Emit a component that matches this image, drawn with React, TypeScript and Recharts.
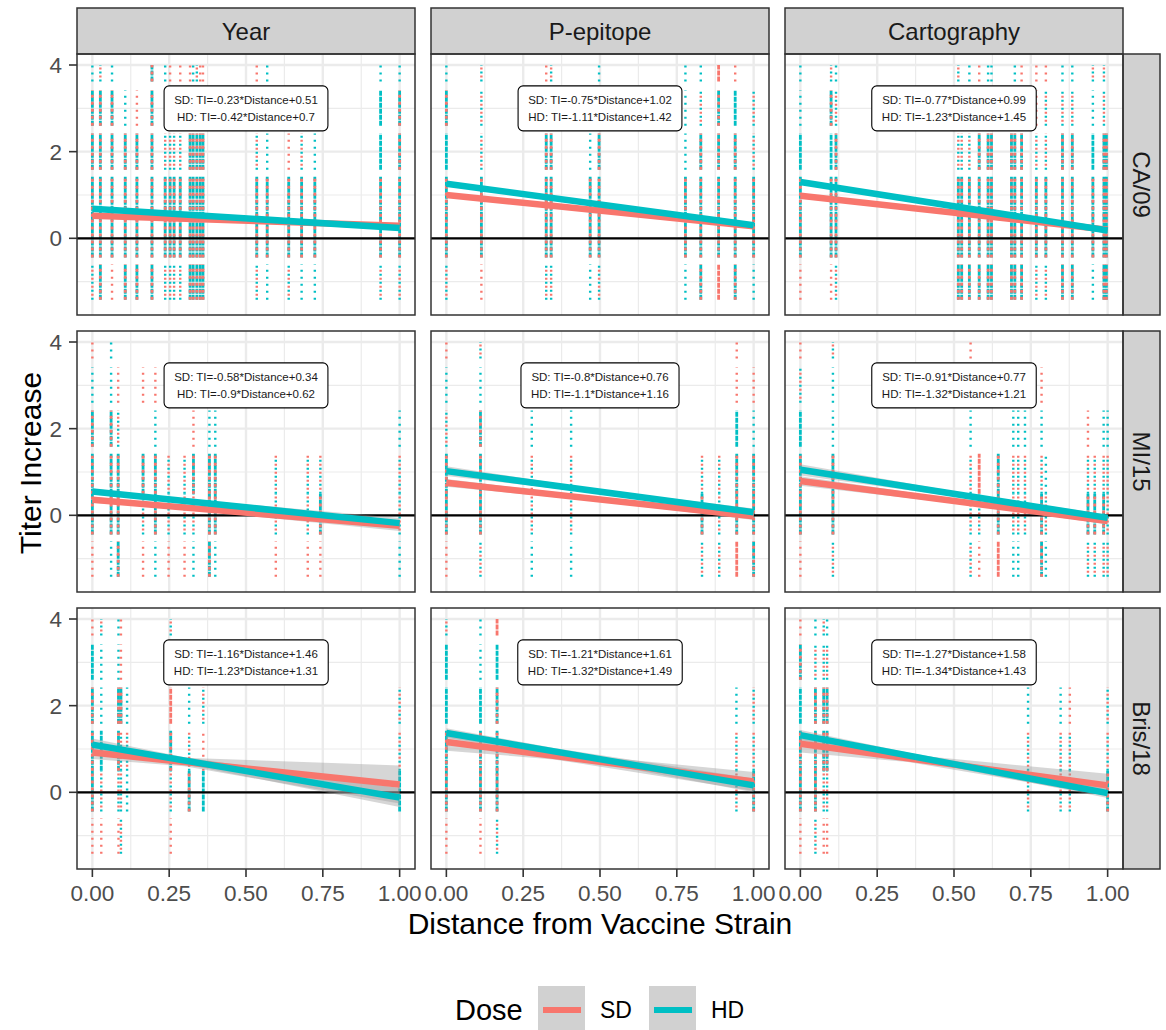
import React from 'react';
import { ComposedChart, XAxis, YAxis, Scatter, Line, Area, ReferenceLine, ReferenceDot } from 'recharts';

const SD_COLOR = '#F8766D';
const HD_COLOR = '#00BFC4';
const STRIP_FILL = '#d1d1d1';
const FONT = '"Liberation Sans", Arial, Helvetica, sans-serif';

const STRAINS = ['CA/09', 'MI/15', 'Bris/18'];
const MEASURES = ['Year', 'P-epitope', 'Cartography'];
const DOSES = ['SD', 'HD'];
const X_TICKS = [0, 0.25, 0.5, 0.75, 1];
const X_MINOR = [0.125, 0.375, 0.625, 0.875];
const Y_TICKS = [0, 2, 4];
const Y_MINOR = [-1, 1, 3];
const X_DOMAIN = [-0.05, 1.05];
const Y_DOMAIN = [-1.77, 4.254];

// titer increase bands the jittered points fall into (levels -1, 0, 1, 2, 3, 4)
const LEVEL_BANDS = [[-1.42, -0.6], [-0.44, 0.5], [0.5, 1.42], [1.58, 2.42], [2.6, 3.42], [3.62, 4.0]];

// columns of points: [distance, one char per level]
// B = both doses, S = SD only, H = HD only, lower case = only a few points, . = none
type Col = [number, string];

const CA09_YEAR: Col[] = [
  [0.0, 'bBBBBh'], [0.026, 'BBBBBb'], [0.064, 'sBBBBh'], [0.107, 'BBBBh.'], [0.145, 'BBBBs.'],
  [0.194, 'BBBBBB'], [0.237, 'bBBb.h'], [0.253, 'bBBb.s'], [0.266, 'bBBb..'], [0.286, 'bBBbhs'],
  [0.318, 'BBBB.s'], [0.328, 'BBBB.h'], [0.34, 'BBBB.b'], [0.351, 'BBBBbs'], [0.36, 'BBBB.s'],
  [0.535, 'bBBb.s'], [0.569, 'hBBh.h'], [0.639, 'bBBs..'], [0.681, 'hBBb..'], [0.724, 'hBBh..'],
  [0.938, 'bBBHHh'], [1.0, 'bBBBBh'],
];
const CA09_PEPI: Col[] = [
  [0.0, 'bBBHBh'], [0.114, 'sBBbbb'], [0.325, 'bBBB.s'], [0.341, 'bBBB.b'], [0.468, 'hBBh..'],
  [0.497, 'bBBB.h'], [0.778, 'hBBhhh'], [0.828, 'BBBBbh'], [0.886, 'SBBBBS'], [0.94, 'BBBBHs'],
  [1.0, 'hBBbb.'],
];
const CA09_CART: Col[] = [
  [0.0, 'sBBHhh'], [0.1, 'sBBHBb'], [0.116, 'bBBBbh'], [0.514, 'BBBb.b'], [0.525, 'BBBb..'],
  [0.55, 'BBBb.h'], [0.582, 'BBBB.s'], [0.611, 'BBBB.h'], [0.622, 'BBBB.h'], [0.687, 'BBBB..'],
  [0.698, 'BBBB.h'], [0.72, 'BBBB.s'], [0.768, 'bBBbss'], [0.799, 'bBBbbs'], [0.853, 'BBBBbh'],
  [0.885, 'BBBBbh'], [0.952, 'hBBHhb'], [0.988, 'BBBBbb'], [0.996, 'BBBB..'],
];
const MI15_YEAR: Col[] = [
  [0.0, 'sBBBhs'], [0.061, 'hBBBhh'], [0.084, 'BBBbs.'], [0.165, 'sbB.s.'], [0.205, 'hBBhs.'],
  [0.248, 'sbb...'], [0.3, 'sbb...'], [0.329, 'hbBs..'], [0.381, 'BBBh..'], [0.4, 'hBBh..'],
  [0.597, 'sbb...'], [0.701, 'sbb...'], [0.742, 'sBb...'], [1.0, 'hbbh..'],
];
const MI15_PEPI: Col[] = [
  [0.0, 'sBBbhs'], [0.111, 'bBBBhb'], [0.278, 'hbbh..'], [0.406, 'hbbh..'], [0.832, 'bBb...'],
  [0.888, 'bbb...'], [0.945, 'SBBHss'], [1.0, 'BBBhs.'],
];
const MI15_CART: Col[] = [
  [0.0, 'sBBHbs'], [0.106, 'bBBhhb'], [0.554, 'bbbh.s'], [0.582, 'sbS...'], [0.644, 'SBB...'],
  [0.693, 'hbbh..'], [0.709, 'hbbh..'], [0.731, '.bbh..'], [0.785, 'BBbhs.'], [0.799, 'hbh...'],
  [0.936, 'bBbs..'], [0.958, 'bBb...'], [0.987, 'bBbh..'], [1.0, 'bbbh..'],
];
const BRIS18_YEAR: Col[] = [
  [0.0, 'sBBBHs'], [0.029, 'sbHhhb'], [0.085, 'sbBBhh'], [0.093, 'bbbBss'], [0.113, '.hbh..'],
  [0.255, 'sbBS.b'], [0.315, '.Bbh..'], [0.361, '.Hsb..'], [1.0, '.Hbb..'],
];
const BRIS18_PEPI: Col[] = [
  [0.0, 'sBBHHb'], [0.111, 'sBBHhh'], [0.165, 'bBBBHS'], [0.944, '.bbh..'], [1.0, '.Bbb..'],
];
const BRIS18_CART: Col[] = [
  [0.0, 'sBBHBs'], [0.049, 'bBBBbh'], [0.076, 'sbBBbb'], [0.087, 'sbBBbh'], [0.741, '.bbh..'],
  [0.847, '.bbh..'], [0.877, '.bbs..'], [1.0, '.Bbb..'],
];

// fitted lines: [SD at 0, SD at 1, HD at 0, HD at 1]
const CA09_FIT = [[0.52, 0.29, 0.68, 0.24], [1.0, 0.28, 1.26, 0.3], [0.98, 0.2, 1.3, 0.18]];
const MI15_FIT = [[0.36, -0.24, 0.55, -0.18], [0.75, -0.02, 1.02, 0.07], [0.79, -0.13, 1.05, -0.06]];
const BRIS18_FIT = [[0.92, 0.18, 1.1, -0.12], [1.16, 0.25, 1.37, 0.16], [1.12, 0.16, 1.32, -0.02]];

// confidence ribbons: [distance, SD low, SD high, HD low, HD high]
const CA09_SE = [
  [[0, 0.49, 0.55, 0.65, 0.71], [0.3, 0.43, 0.47, 0.53, 0.57], [1, 0.24, 0.34, 0.19, 0.29]],
  [[0, 0.96, 1.04, 1.21, 1.31], [0.6, 0.54, 0.6, 0.66, 0.71], [1, 0.24, 0.32, 0.26, 0.34]],
  [[0, 0.94, 1.02, 1.25, 1.35], [0.7, 0.41, 0.46, 0.49, 0.54], [1, 0.15, 0.25, 0.12, 0.24]],
];
const MI15_SE = [
  [[0, 0.29, 0.43, 0.48, 0.62], [0.25, 0.17, 0.25, 0.33, 0.41], [1, -0.36, -0.12, -0.3, -0.06]],
  [[0, 0.66, 0.84, 0.91, 1.13], [0.5, 0.32, 0.41, 0.5, 0.59], [1, -0.11, 0.07, -0.02, 0.16]],
  [[0, 0.68, 0.9, 0.92, 1.18], [0.6, 0.2, 0.28, 0.34, 0.43], [1, -0.21, -0.05, -0.14, 0.02]],
];
const BRIS18_SE = [
  [[0, 0.77, 1.07, 0.96, 1.24], [0.3, 0.6, 0.8, 0.65, 0.81], [1, -0.26, 0.62, -0.34, 0.1]],
  [[0, 0.96, 1.36, 1.26, 1.48], [0.35, 0.76, 0.92, 0.87, 1.02], [1, 0.03, 0.47, 0, 0.32]],
  [[0, 0.92, 1.32, 1.2, 1.44], [0.35, 0.7, 0.87, 0.78, 0.92], [1, -0.08, 0.43, -0.13, 0.1]],
];

const CA09_EQ = [
  ['SD: TI=-0.23*Distance+0.51', 'HD: TI=-0.42*Distance+0.7'],
  ['SD: TI=-0.75*Distance+1.02', 'HD: TI=-1.11*Distance+1.42'],
  ['SD: TI=-0.77*Distance+0.99', 'HD: TI=-1.23*Distance+1.45'],
];
const MI15_EQ = [
  ['SD: TI=-0.58*Distance+0.34', 'HD: TI=-0.9*Distance+0.62'],
  ['SD: TI=-0.8*Distance+0.76', 'HD: TI=-1.1*Distance+1.16'],
  ['SD: TI=-0.91*Distance+0.77', 'HD: TI=-1.32*Distance+1.21'],
];
const BRIS18_EQ = [
  ['SD: TI=-1.16*Distance+1.46', 'HD: TI=-1.23*Distance+1.31'],
  ['SD: TI=-1.21*Distance+1.61', 'HD: TI=-1.32*Distance+1.49'],
  ['SD: TI=-1.27*Distance+1.58', 'HD: TI=-1.34*Distance+1.43'],
];
const LABEL_AT = { x: 0.5, y: 3 };

const COLS = [
  [CA09_YEAR, CA09_PEPI, CA09_CART],
  [MI15_YEAR, MI15_PEPI, MI15_CART],
  [BRIS18_YEAR, BRIS18_PEPI, BRIS18_CART],
];
const FITS = [CA09_FIT, MI15_FIT, BRIS18_FIT];
const SES = [CA09_SE, MI15_SE, BRIS18_SE];
const EQS = [CA09_EQ, MI15_EQ, BRIS18_EQ];

// layout
const PANEL_X = [77, 431, 785];
const PANEL_Y = [54, 331, 608];
const PW = 338;
const PH = 261;
const PAD = 30;
const TOP_PAD = 10;
const X_AXIS_H = 45;
const PX_PER_UNIT = PH / (Y_DOMAIN[1] - Y_DOMAIN[0]);

function pointsFor(cols: Col[], dose: string) {
  const out: any[] = [];
  cols.forEach(([x, code]) => {
    code.split('').forEach((c, i) => {
      if (c === '.') return;
      const up = c.toUpperCase();
      if (up !== 'B' && up !== dose) return;
      out.push({ x, y: LEVEL_BANDS[i][0], top: LEVEL_BANDS[i][1], mix: up === 'B', dense: c === up });
    });
  });
  return out;
}

const makeShape = (color: string, isSd: boolean) => (props: any) => {
  const { cx, cy, payload } = props;
  if (cx == null || cy == null) return <g />;
  const len = (payload.top - payload.y) * PX_PER_UNIT;
  let dash = payload.dense ? '5 1' : '2 5';
  let offset = 0;
  let w = payload.dense ? 2.8 : 2.4;
  if (payload.mix) {
    if (isSd) {
      dash = payload.dense ? '3 4' : '2 6';
      offset = payload.dense ? 0 : 4;
    } else {
      dash = payload.dense ? '5 1' : '2 6';
    }
  }
  return (
    <line x1={cx} x2={cx} y1={cy} y2={cy - len} stroke={color} strokeWidth={w}
      strokeDasharray={dash} strokeDashoffset={offset} />
  );
};
const sdShape = makeShape(SD_COLOR, true);
const hdShape = makeShape(HD_COLOR, false);

let measureCtx: CanvasRenderingContext2D | null = null;
function textWidth(s: string, size: number) {
  if (!measureCtx) measureCtx = document.createElement('canvas').getContext('2d');
  if (!measureCtx) return s.length * size * 0.5;
  measureCtx.font = `${size}px "Liberation Sans"`;
  return measureCtx.measureText(s).width;
}

function EqLabel({ cx, cy, lines }: any) {
  const w = Math.max(...lines.map((l: string) => textWidth(l, 11.5))) + 20;
  const h = 45;
  return (
    <g>
      <rect x={cx - w / 2} y={cy - h / 2} width={w} height={h} rx={5} fill="#fff" stroke="#000" strokeWidth={1.1} />
      <text x={cx} y={cy - 8.5} dy="0.35em" textAnchor="middle" fontSize={11.5} fill="#1a1a1a" fontFamily={FONT}>{lines[0]}</text>
      <text x={cx} y={cy + 8.5} dy="0.35em" textAnchor="middle" fontSize={11.5} fill="#1a1a1a" fontFamily={FONT}>{lines[1]}</text>
    </g>
  );
}

const tickStyle = { fontSize: 22.5, fill: '#4d4d4d', fontFamily: FONT };
const tickLine = { stroke: '#333333', strokeWidth: 1.6 };

function Panel({ row, col }: { row: number; col: number }) {
  const cols = COLS[row][col];
  const fit = FITS[row][col];
  const se = SES[row][col];
  const eq = EQS[row][col];
  const isLeft = col === 0;
  const isBottom = row === 2;
  const yW = isLeft ? PANEL_X[0] : 0;
  const ml = isLeft ? 0 : PAD;
  const left = isLeft ? 0 : PANEL_X[col] - PAD;
  const width = yW + ml + PW + PAD;
  const mb = isBottom ? 5 : TOP_PAD;
  const height = TOP_PAD + PH + (isBottom ? X_AXIS_H : 0) + mb;

  const bandRows = se.map((r) => ({ x: r[0], sd: [r[1], r[2]], hd: [r[3], r[4]] }));
  const sdLine = [{ x: 0, y: fit[0] }, { x: 1, y: fit[1] }];
  const hdLine = [{ x: 0, y: fit[2] }, { x: 1, y: fit[3] }];
  const sdPts = pointsFor(cols, 'S');
  const hdPts = pointsFor(cols, 'H');

  return (
    <div style={{ position: 'absolute', left, top: PANEL_Y[row] - TOP_PAD }}>
      <ComposedChart width={width} height={height} data={bandRows}
        margin={{ top: TOP_PAD, right: PAD, bottom: mb, left: ml }}>
        <XAxis type="number" dataKey="x" domain={X_DOMAIN} ticks={X_TICKS} allowDataOverflow
          hide={!isBottom} height={X_AXIS_H} interval={0} tickFormatter={(v: number) => v.toFixed(2)}
          tick={tickStyle} tickSize={8} tickMargin={8} tickLine={tickLine} axisLine={false} />
        <YAxis type="number" dataKey="y" domain={Y_DOMAIN} ticks={Y_TICKS} allowDataOverflow
          hide={!isLeft} width={yW || 60} interval={0}
          tick={tickStyle} tickSize={8} tickMargin={7} tickLine={tickLine} axisLine={false} />
        {X_MINOR.map((v) => <ReferenceLine key={'xm' + v} x={v} stroke="#ebebeb" strokeWidth={1.2} zIndex={1} />)}
        {Y_MINOR.map((v) => <ReferenceLine key={'ym' + v} y={v} stroke="#ebebeb" strokeWidth={1.2} zIndex={1} />)}
        {X_TICKS.map((v) => <ReferenceLine key={'xM' + v} x={v} stroke="#ebebeb" strokeWidth={2.4} zIndex={2} />)}
        {Y_TICKS.map((v) => <ReferenceLine key={'yM' + v} y={v} stroke="#ebebeb" strokeWidth={2.4} zIndex={2} />)}
        <Scatter name="HD" data={hdPts} shape={hdShape} isAnimationActive={false} zIndex={20} />
        <Scatter name="SD" data={sdPts} shape={sdShape} isAnimationActive={false} zIndex={21} />
        <ReferenceLine y={0} stroke="#000" strokeWidth={2.2} zIndex={30} />
        <Area type="linear" dataKey="sd" stroke="none" fill="#999999" fillOpacity={0.4} isAnimationActive={false} zIndex={40} />
        <Area type="linear" dataKey="hd" stroke="none" fill="#999999" fillOpacity={0.4} isAnimationActive={false} zIndex={41} />
        <Line type="linear" data={sdLine} dataKey="y" stroke={SD_COLOR} strokeWidth={6.5} dot={false} activeDot={false} isAnimationActive={false} zIndex={50} />
        <Line type="linear" data={hdLine} dataKey="y" stroke={HD_COLOR} strokeWidth={6.5} dot={false} activeDot={false} isAnimationActive={false} zIndex={51} />
        <ReferenceDot x={LABEL_AT.x} y={LABEL_AT.y} r={1} zIndex={60}
          shape={(p: any) => <EqLabel cx={p.cx} cy={p.cy} lines={eq} />} />
      </ComposedChart>
    </div>
  );
}

function Overlay() {
  const legendY = 1010;
  return (
    <svg width={1166} height={1030} style={{ position: 'absolute', left: 0, top: 0, pointerEvents: 'none' }}
      fontFamily={FONT}>
      {MEASURES.map((m, c) => (
        <g key={m}>
          <rect x={PANEL_X[c]} y={8} width={PW} height={46} fill={STRIP_FILL} stroke="#333333" strokeWidth={1.5} />
          <text x={PANEL_X[c] + PW / 2} y={32} dy="0.35em" textAnchor="middle" fontSize={24} fill="#1a1a1a">{m}</text>
        </g>
      ))}
      {STRAINS.map((s, r) => (
        <g key={s}>
          <rect x={PANEL_X[2] + PW} y={PANEL_Y[r]} width={37} height={PH} fill={STRIP_FILL} stroke="#333333" strokeWidth={1.5} />
          <text transform={`translate(${PANEL_X[2] + PW + 18.5},${PANEL_Y[r] + PH / 2}) rotate(90)`}
            dy="0.35em" textAnchor="middle" fontSize={24} fill="#1a1a1a">{s}</text>
        </g>
      ))}
      {STRAINS.map((s, r) => MEASURES.map((m, c) => (
        <rect key={s + m} x={PANEL_X[c]} y={PANEL_Y[r]} width={PW} height={PH} fill="none" stroke="#333333" strokeWidth={1.5} />
      )))}
      <text transform="translate(30,463) rotate(-90)" dy="0.35em" textAnchor="middle" fontSize={30} fill="#000">Titer Increase</text>
      <text x={600} y={934} textAnchor="middle" fontSize={30} fill="#000">Distance from Vaccine Strain</text>

      <text x={455} y={legendY} dy="0.35em" fontSize={29} fill="#000">Dose</text>
      {DOSES.map((d, i) => {
        const kx = 538 + i * 111;
        return (
          <g key={d}>
            <rect x={kx} y={986} width={47} height={48} fill={STRIP_FILL} />
            <line x1={kx + 5} x2={kx + 43} y1={legendY} y2={legendY} stroke={i === 0 ? SD_COLOR : HD_COLOR} strokeWidth={6} />
            <text x={kx + 62} y={legendY} dy="0.35em" fontSize={23} fill="#000">{d}</text>
          </g>
        );
      })}
    </svg>
  );
}

export default function App() {
  return (
    <div style={{ position: 'absolute', left: 0, top: 0, width: 1166, height: 1030, background: '#fff', fontFamily: FONT }}>
      {STRAINS.map((s, r) => MEASURES.map((m, c) => <Panel key={s + m} row={r} col={c} />))}
      <Overlay />
    </div>
  );
}
